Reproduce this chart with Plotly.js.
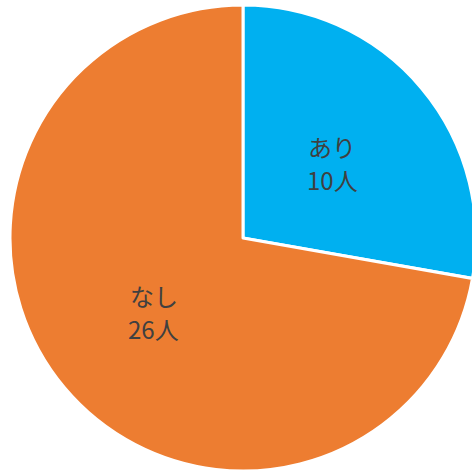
<!DOCTYPE html>
<html>
<head>
<meta charset="utf-8">
<script src="https://cdn.plot.ly/plotly-3.0.1.min.js"></script>
<style>
  html, body { margin: 0; padding: 0; overflow: hidden; background: #fff; }
  #chart { width: 476px; height: 474px; }
</style>
</head>
<body>
<div id="chart"></div>
<script>
// 有無の内訳
const categories = ['あり', 'なし'];
const counts = [10, 26];
const sliceColors = ['#00B0F0', '#ED7D31'];

// labels sit at half the radius, on each slice's middle angle (clockwise from 12 o'clock)
const total = counts.reduce((a, b) => a + b, 0);
const labelFont = { family: 'Noto Sans CJK JP, sans-serif', size: 24, color: '#404040' };
let acc = 0;
const labelAnns = [];
counts.forEach((v, i) => {
  const mid = (acc + v / 2) / total * 2 * Math.PI;
  acc += v;
  const ax = 0.5 + 0.25 * Math.sin(mid), ay = 0.5 + 0.25 * Math.cos(mid);
  // two lines as separate annotations so they don't share one box
  [[categories[i], 17], [v + '人', -16]].forEach(([t, dy]) => {
    labelAnns.push({
      x: ax, y: ay, xref: 'paper', yref: 'paper',
      xanchor: 'center', yanchor: 'middle', yshift: dy,
      text: t, showarrow: false, font: labelFont
    });
  });
});

Plotly.newPlot('chart', [{
  type: 'pie',
  labels: categories,
  values: counts,
  sort: false,
  direction: 'clockwise',
  rotation: 0,
  marker: { colors: sliceColors, line: { color: '#ffffff', width: 3 } },
  textinfo: 'none',
  hoverinfo: 'skip'
}], {
  width: 476, height: 474,
  margin: { l: 10, r: 0, t: 5, b: 3 },
  annotations: labelAnns,
  showlegend: false,
  paper_bgcolor: '#ffffff'
}, { displayModeBar: false, staticPlot: true });
</script>
</body>
</html>
